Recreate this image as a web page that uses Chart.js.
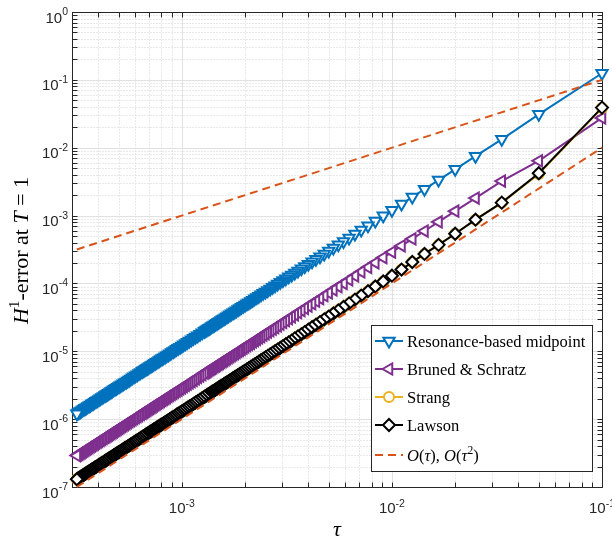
<!DOCTYPE html>
<html>
<head>
<meta charset="utf-8">
<script src="https://cdn.jsdelivr.net/npm/chart.js@4.4.1/dist/chart.umd.min.js"></script>
<style>
  html, body { margin: 0; padding: 0; background: #fff; }
  #wrap { width: 612px; height: 540px; }
</style>
</head>
<body>
<div id="wrap"><canvas id="errChart"></canvas></div>
<script>
// ---- data ----
const tau = [
  0.1, 0.05, 0.03333, 0.025, 0.02, 0.01667, 0.01429, 0.0125, 0.01111, 0.01,
  0.009091, 0.008333, 0.007692, 0.007143, 0.006667, 0.00625, 0.005882, 0.005556, 0.005263, 0.005,
  0.004762, 0.004545, 0.004348, 0.004167, 0.004, 0.003846, 0.003704, 0.003571, 0.003448, 0.003333,
  0.003226, 0.003125, 0.00303, 0.002941, 0.002857, 0.002778, 0.002703, 0.002632, 0.002564, 0.0025,
  0.002439, 0.002381, 0.002326, 0.002273, 0.002222, 0.002174, 0.002128, 0.002083, 0.002041, 0.002,
  0.001961, 0.001923, 0.001887, 0.001852, 0.001818, 0.001786, 0.001754, 0.001724, 0.001695, 0.001667,
  0.001639, 0.001613, 0.001587, 0.001563, 0.001538, 0.001515, 0.001493, 0.001471, 0.001449, 0.001429,
  0.001408, 0.001389, 0.00137, 0.001351, 0.001333, 0.001316, 0.001299, 0.001282, 0.00125, 0.00122,
  0.00119, 0.001163, 0.001136, 0.001111, 0.001087, 0.001064, 0.001042, 0.00102, 0.001, 9.804e-4,
  9.615e-4, 9.434e-4, 9.259e-4, 9.091e-4, 8.929e-4, 8.772e-4, 8.621e-4, 8.475e-4, 8.333e-4, 8.197e-4,
  8.065e-4, 7.937e-4, 7.813e-4, 7.692e-4, 7.576e-4, 7.463e-4, 7.353e-4, 7.246e-4, 7.143e-4, 7.042e-4,
  6.944e-4, 6.849e-4, 6.757e-4, 6.667e-4, 6.579e-4, 6.494e-4, 6.369e-4, 6.250e-4, 6.135e-4, 6.024e-4,
  5.917e-4, 5.814e-4, 5.714e-4, 5.618e-4, 5.525e-4, 5.435e-4, 5.348e-4, 5.263e-4, 5.181e-4, 5.102e-4,
  5.025e-4, 4.950e-4, 4.878e-4, 4.808e-4, 4.739e-4, 4.673e-4, 4.608e-4, 4.545e-4, 4.484e-4, 4.425e-4,
  4.367e-4, 4.310e-4, 4.237e-4, 4.167e-4, 4.098e-4, 4.032e-4, 3.968e-4, 3.906e-4, 3.846e-4, 3.788e-4,
  3.731e-4, 3.676e-4, 3.623e-4, 3.571e-4, 3.521e-4, 3.472e-4, 3.425e-4, 3.378e-4, 3.333e-4, 3.289e-4,
  3.247e-4, 3.205e-4, 3.165e-4
];

const resonanceErr = [
  0.125, 0.031, 0.0133, 0.0075, 0.0048, 0.00333, 0.00245, 0.00188, 0.00148, 0.0012,
  9.92e-4, 8.33e-4, 7.10e-4, 6.12e-4, 5.33e-4, 4.69e-4, 4.15e-4, 3.70e-4, 3.32e-4, 3.00e-4,
  2.72e-4, 2.48e-4, 2.27e-4, 2.08e-4, 1.92e-4, 1.78e-4, 1.65e-4, 1.53e-4, 1.43e-4, 1.33e-4,
  1.25e-4, 1.17e-4, 1.10e-4, 1.04e-4, 9.80e-5, 9.26e-5, 8.77e-5, 8.31e-5, 7.89e-5, 7.50e-5,
  7.14e-5, 6.80e-5, 6.49e-5, 6.20e-5, 5.93e-5, 5.67e-5, 5.43e-5, 5.21e-5, 5.00e-5, 4.80e-5,
  4.61e-5, 4.44e-5, 4.27e-5, 4.12e-5, 3.97e-5, 3.83e-5, 3.69e-5, 3.57e-5, 3.45e-5, 3.33e-5,
  3.22e-5, 3.12e-5, 3.02e-5, 2.93e-5, 2.84e-5, 2.75e-5, 2.67e-5, 2.60e-5, 2.52e-5, 2.45e-5,
  2.38e-5, 2.31e-5, 2.25e-5, 2.19e-5, 2.13e-5, 2.08e-5, 2.02e-5, 1.97e-5, 1.88e-5, 1.78e-5,
  1.70e-5, 1.62e-5, 1.55e-5, 1.48e-5, 1.42e-5, 1.36e-5, 1.30e-5, 1.25e-5, 1.20e-5, 1.15e-5,
  1.11e-5, 1.07e-5, 1.03e-5, 9.92e-6, 9.57e-6, 9.23e-6, 8.92e-6, 8.62e-6, 8.33e-6, 8.06e-6,
  7.80e-6, 7.56e-6, 7.32e-6, 7.10e-6, 6.89e-6, 6.68e-6, 6.49e-6, 6.30e-6, 6.12e-6, 5.95e-6,
  5.79e-6, 5.63e-6, 5.48e-6, 5.33e-6, 5.19e-6, 5.06e-6, 4.87e-6, 4.69e-6, 4.52e-6, 4.35e-6,
  4.20e-6, 4.06e-6, 3.92e-6, 3.79e-6, 3.66e-6, 3.54e-6, 3.43e-6, 3.32e-6, 3.22e-6, 3.12e-6,
  3.03e-6, 2.94e-6, 2.86e-6, 2.77e-6, 2.70e-6, 2.62e-6, 2.55e-6, 2.48e-6, 2.41e-6, 2.35e-6,
  2.29e-6, 2.23e-6, 2.15e-6, 2.08e-6, 2.02e-6, 1.95e-6, 1.89e-6, 1.83e-6, 1.78e-6, 1.72e-6,
  1.67e-6, 1.62e-6, 1.58e-6, 1.53e-6, 1.49e-6, 1.45e-6, 1.41e-6, 1.37e-6, 1.33e-6, 1.30e-6,
  1.26e-6, 1.23e-6, 1.20e-6
];

const brunedErr = [
  0.0275, 0.0064, 0.00322, 0.00181, 0.00116, 8.06e-4, 5.92e-4, 4.53e-4, 3.58e-4, 2.90e-4,
  2.40e-4, 2.01e-4, 1.72e-4, 1.48e-4, 1.29e-4, 1.13e-4, 1.00e-4, 8.95e-5, 8.03e-5, 7.25e-5,
  6.58e-5, 5.99e-5, 5.48e-5, 5.03e-5, 4.64e-5, 4.29e-5, 3.98e-5, 3.70e-5, 3.45e-5, 3.22e-5,
  3.02e-5, 2.83e-5, 2.66e-5, 2.51e-5, 2.37e-5, 2.24e-5, 2.12e-5, 2.01e-5, 1.91e-5, 1.81e-5,
  1.73e-5, 1.64e-5, 1.57e-5, 1.50e-5, 1.43e-5, 1.37e-5, 1.31e-5, 1.26e-5, 1.21e-5, 1.16e-5,
  1.11e-5, 1.07e-5, 1.03e-5, 9.95e-6, 9.59e-6, 9.25e-6, 8.93e-6, 8.62e-6, 8.33e-6, 8.06e-6,
  7.79e-6, 7.54e-6, 7.31e-6, 7.08e-6, 6.86e-6, 6.66e-6, 6.46e-6, 6.27e-6, 6.09e-6, 5.92e-6,
  5.75e-6, 5.59e-6, 5.44e-6, 5.30e-6, 5.16e-6, 5.02e-6, 4.89e-6, 4.77e-6, 4.53e-6, 4.31e-6,
  4.11e-6, 3.92e-6, 3.74e-6, 3.58e-6, 3.43e-6, 3.28e-6, 3.15e-6, 3.02e-6, 2.90e-6, 2.79e-6,
  2.68e-6, 2.58e-6, 2.49e-6, 2.40e-6, 2.31e-6, 2.23e-6, 2.16e-6, 2.08e-6, 2.01e-6, 1.95e-6,
  1.89e-6, 1.83e-6, 1.77e-6, 1.72e-6, 1.66e-6, 1.62e-6, 1.57e-6, 1.52e-6, 1.48e-6, 1.44e-6,
  1.40e-6, 1.36e-6, 1.32e-6, 1.29e-6, 1.26e-6, 1.22e-6, 1.18e-6, 1.13e-6, 1.09e-6, 1.05e-6,
  1.02e-6, 9.80e-7, 9.47e-7, 9.15e-7, 8.85e-7, 8.57e-7, 8.29e-7, 8.03e-7, 7.79e-7, 7.55e-7,
  7.32e-7, 7.11e-7, 6.90e-7, 6.70e-7, 6.51e-7, 6.33e-7, 6.16e-7, 5.99e-7, 5.83e-7, 5.68e-7,
  5.53e-7, 5.39e-7, 5.21e-7, 5.03e-7, 4.87e-7, 4.72e-7, 4.57e-7, 4.43e-7, 4.29e-7, 4.16e-7,
  4.04e-7, 3.92e-7, 3.81e-7, 3.70e-7, 3.60e-7, 3.50e-7, 3.40e-7, 3.31e-7, 3.22e-7, 3.14e-7,
  3.06e-7, 2.98e-7, 2.90e-7
];

const strangErr = [
  0.0385, 0.0041, 0.00154, 8.7e-4, 5.4e-4, 3.7e-4, 2.72e-4, 2.07e-4, 1.60e-4, 1.30e-4,
  1.07e-4, 9.03e-5, 7.69e-5, 6.63e-5, 5.78e-5, 5.08e-5, 4.50e-5, 4.01e-5, 3.60e-5, 3.25e-5,
  2.95e-5, 2.69e-5, 2.46e-5, 2.26e-5, 2.08e-5, 1.92e-5, 1.78e-5, 1.66e-5, 1.55e-5, 1.44e-5,
  1.35e-5, 1.27e-5, 1.19e-5, 1.12e-5, 1.06e-5, 1.00e-5, 9.50e-6, 9.00e-6, 8.55e-6, 8.13e-6,
  7.73e-6, 7.37e-6, 7.03e-6, 6.71e-6, 6.42e-6, 6.14e-6, 5.88e-6, 5.64e-6, 5.41e-6, 5.20e-6,
  5.00e-6, 4.81e-6, 4.63e-6, 4.46e-6, 4.30e-6, 4.15e-6, 4.00e-6, 3.86e-6, 3.73e-6, 3.61e-6,
  3.49e-6, 3.38e-6, 3.28e-6, 3.17e-6, 3.08e-6, 2.98e-6, 2.90e-6, 2.81e-6, 2.73e-6, 2.65e-6,
  2.58e-6, 2.51e-6, 2.44e-6, 2.37e-6, 2.31e-6, 2.25e-6, 2.19e-6, 2.14e-6, 2.03e-6, 1.93e-6,
  1.84e-6, 1.76e-6, 1.68e-6, 1.60e-6, 1.54e-6, 1.47e-6, 1.41e-6, 1.35e-6, 1.30e-6, 1.25e-6,
  1.20e-6, 1.16e-6, 1.11e-6, 1.07e-6, 1.04e-6, 1.00e-6, 9.66e-7, 9.34e-7, 9.03e-7, 8.73e-7,
  8.45e-7, 8.19e-7, 7.93e-7, 7.69e-7, 7.46e-7, 7.24e-7, 7.03e-7, 6.83e-7, 6.63e-7, 6.45e-7,
  6.27e-7, 6.10e-7, 5.94e-7, 5.78e-7, 5.63e-7, 5.48e-7, 5.27e-7, 5.08e-7, 4.89e-7, 4.72e-7,
  4.55e-7, 4.39e-7, 4.24e-7, 4.10e-7, 3.97e-7, 3.84e-7, 3.72e-7, 3.60e-7, 3.49e-7, 3.38e-7,
  3.28e-7, 3.19e-7, 3.09e-7, 3.00e-7, 2.92e-7, 2.84e-7, 2.76e-7, 2.69e-7, 2.61e-7, 2.55e-7,
  2.48e-7, 2.42e-7, 2.33e-7, 2.26e-7, 2.18e-7, 2.11e-7, 2.05e-7, 1.98e-7, 1.92e-7, 1.87e-7,
  1.81e-7, 1.76e-7, 1.71e-7, 1.66e-7, 1.61e-7, 1.57e-7, 1.52e-7, 1.48e-7, 1.44e-7, 1.41e-7,
  1.37e-7, 1.34e-7, 1.30e-7
];

const lawsonErr = [
  0.039, 0.0042, 0.00155, 8.7e-4, 5.4e-4, 3.7e-4, 2.72e-4, 2.07e-4, 1.60e-4, 1.30e-4,
  1.07e-4, 9.03e-5, 7.69e-5, 6.63e-5, 5.78e-5, 5.08e-5, 4.50e-5, 4.01e-5, 3.60e-5, 3.25e-5,
  2.95e-5, 2.69e-5, 2.46e-5, 2.26e-5, 2.08e-5, 1.92e-5, 1.78e-5, 1.66e-5, 1.55e-5, 1.44e-5,
  1.35e-5, 1.27e-5, 1.19e-5, 1.12e-5, 1.06e-5, 1.00e-5, 9.50e-6, 9.00e-6, 8.55e-6, 8.13e-6,
  7.73e-6, 7.37e-6, 7.03e-6, 6.71e-6, 6.42e-6, 6.14e-6, 5.88e-6, 5.64e-6, 5.41e-6, 5.20e-6,
  5.00e-6, 4.81e-6, 4.63e-6, 4.46e-6, 4.30e-6, 4.15e-6, 4.00e-6, 3.86e-6, 3.73e-6, 3.61e-6,
  3.49e-6, 3.38e-6, 3.28e-6, 3.17e-6, 3.08e-6, 2.98e-6, 2.90e-6, 2.81e-6, 2.73e-6, 2.65e-6,
  2.58e-6, 2.51e-6, 2.44e-6, 2.37e-6, 2.31e-6, 2.25e-6, 2.19e-6, 2.14e-6, 2.03e-6, 1.93e-6,
  1.84e-6, 1.76e-6, 1.68e-6, 1.60e-6, 1.54e-6, 1.47e-6, 1.41e-6, 1.35e-6, 1.30e-6, 1.25e-6,
  1.20e-6, 1.16e-6, 1.11e-6, 1.07e-6, 1.04e-6, 1.00e-6, 9.66e-7, 9.34e-7, 9.03e-7, 8.73e-7,
  8.45e-7, 8.19e-7, 7.93e-7, 7.69e-7, 7.46e-7, 7.24e-7, 7.03e-7, 6.83e-7, 6.63e-7, 6.45e-7,
  6.27e-7, 6.10e-7, 5.94e-7, 5.78e-7, 5.63e-7, 5.48e-7, 5.27e-7, 5.08e-7, 4.89e-7, 4.72e-7,
  4.55e-7, 4.39e-7, 4.24e-7, 4.10e-7, 3.97e-7, 3.84e-7, 3.72e-7, 3.60e-7, 3.49e-7, 3.38e-7,
  3.28e-7, 3.19e-7, 3.09e-7, 3.00e-7, 2.92e-7, 2.84e-7, 2.76e-7, 2.69e-7, 2.61e-7, 2.55e-7,
  2.48e-7, 2.42e-7, 2.33e-7, 2.26e-7, 2.18e-7, 2.11e-7, 2.05e-7, 1.98e-7, 1.92e-7, 1.87e-7,
  1.81e-7, 1.76e-7, 1.71e-7, 1.66e-7, 1.61e-7, 1.57e-7, 1.52e-7, 1.48e-7, 1.44e-7, 1.41e-7,
  1.37e-7, 1.34e-7, 1.30e-7
];

// reference slopes, drawn between the two ends of the tau range
const refTau = [3.162e-4, 0.1];
const refOrderOne = [3.162e-4, 0.1];
const refOrderTwo = [1.0e-7, 0.01];

const seriesNames = ["Resonance-based midpoint", "Bruned & Schratz", "Strang", "Lawson"];
const xTickLabels = [-3, -2, -1];               // exponents of 10
const yTickLabels = [0, -1, -2, -3, -4, -5, -6, -7];

const X_MIN = 3.162e-4, X_MAX = 0.1, Y_MIN = 1e-7, Y_MAX = 1;

// ---- colours ----
const BLUE = "#0072BD", PURPLE = "#7E2F8E", YELLOW = "#EDB120", ORANGE = "#D95319", AXIS = "#262626";
const SERIF = '"Liberation Serif", "Times New Roman", serif';
const SANS = '"Liberation Sans", Arial, sans-serif';

function pts(xs, ys) {
  return xs.map((x, i) => ({ x, y: ys[i] }));
}

// ticks at d * 10^e, d = 1..9 (major when d == 1)
function decadeTicks(scale) {
  const out = [];
  const lo = Math.floor(Math.log10(scale.min)), hi = Math.ceil(Math.log10(scale.max));
  for (let e = lo; e <= hi; e++) {
    for (let d = 1; d <= 9; d++) {
      const v = d * Math.pow(10, e);
      if (v >= scale.min * 0.999 && v <= scale.max * 1.001) out.push({ value: v, major: d === 1 });
    }
  }
  scale.ticks = out;
}

function richWidth(ctx, segs, size) {
  let w = 0;
  segs.forEach((s) => {
    ctx.font = (s.it ? "italic " : "") + (s.sup ? size * 0.7 : size) + "px " + SERIF;
    w += ctx.measureText(s.t).width;
  });
  return w;
}

function drawRich(ctx, segs, x, y, size) {
  let cx = x;
  segs.forEach((s) => {
    ctx.font = (s.it ? "italic " : "") + (s.sup ? size * 0.7 : size) + "px " + SERIF;
    ctx.fillText(s.t, cx, s.sup ? y - size * 0.4 : y);
    cx += ctx.measureText(s.t).width;
  });
}

function legendMarker(ctx, shape, cx, cy, r) {
  ctx.beginPath();
  if (shape === "circle") {
    ctx.arc(cx, cy, r, 0, Math.PI * 2);
  } else {
    const rot = { triDown: Math.PI, triLeft: Math.PI * 1.5, diamond: 0 }[shape];
    const n = shape === "diamond" ? 4 : 3;
    for (let i = 0; i < n; i++) {
      const a = rot + (i * Math.PI * 2) / n;
      const px = cx + Math.sin(a) * r, py = cy - Math.cos(a) * r;
      if (i === 0) ctx.moveTo(px, py); else ctx.lineTo(px, py);
    }
    ctx.closePath();
  }
  ctx.fillStyle = "#fff";
  ctx.fill();
  ctx.stroke();
}

// ==============================
// GRID, BOX, TICKS, LABELS, LEGEND
// ==============================
const matlabAxes = {
  id: "matlabAxes",
  beforeDatasetsDraw(chart) {
    const { ctx, chartArea: a, scales: { x, y } } = chart;
    const line = (x1, y1, x2, y2) => { ctx.beginPath(); ctx.moveTo(x1, y1); ctx.lineTo(x2, y2); ctx.stroke(); };
    const L = Math.round(a.left) + 0.5, R = Math.round(a.right) + 0.5;
    const T = Math.round(a.top) + 0.5, B = Math.round(a.bottom) + 0.5;
    ctx.save();
    ctx.lineWidth = 1;

    // minor grid first, then major
    [false, true].forEach((major) => {
      ctx.strokeStyle = major ? "#e1e1e1" : "#d2d2d2";
      ctx.setLineDash(major ? [] : [1, 2]);
      x.ticks.forEach((t) => {
        if (t.major !== major) return;
        const px = Math.round(x.getPixelForValue(t.value)) + 0.5;
        if (px <= L + 1 || px >= R - 1) return;
        line(px, T, px, B);
      });
      y.ticks.forEach((t) => {
        if (t.major !== major) return;
        const py = Math.round(y.getPixelForValue(t.value)) + 0.5;
        if (py <= T + 1 || py >= B - 1) return;
        line(L, py, R, py);
      });
    });
    ctx.setLineDash([]);

    // box and inward ticks on all four sides
    ctx.strokeStyle = AXIS;
    ctx.strokeRect(L, T, R - L, B - T);
    const tl = 5;
    x.ticks.forEach((t) => {
      const px = Math.round(x.getPixelForValue(t.value)) + 0.5;
      if (px <= L + 1 || px >= R - 1) return;
      line(px, B, px, B - tl);
      line(px, T, px, T + tl);
    });
    y.ticks.forEach((t) => {
      const py = Math.round(y.getPixelForValue(t.value)) + 0.5;
      if (py <= T + 1 || py >= B - 1) return;
      line(L, py, L + tl, py);
      line(R, py, R - tl, py);
    });
    ctx.restore();
  },

  afterDraw(chart) {
    const { ctx, chartArea: a, scales: { x, y } } = chart;
    ctx.save();
    ctx.fillStyle = AXIS;
    ctx.textAlign = "left";
    ctx.textBaseline = "alphabetic";

    // tick labels 10^e
    const baseFont = "15px " + SANS, expFont = "10.5px " + SANS;
    yTickLabels.forEach((e) => {
      const py = y.getPixelForValue(Math.pow(10, e));
      ctx.font = expFont;
      const we = ctx.measureText(String(e)).width;
      ctx.font = baseFont;
      const wb = ctx.measureText("10").width;
      const right = a.left - 4;
      ctx.fillText("10", right - we - wb, py + 10.5);
      ctx.font = expFont;
      ctx.fillText(String(e), right - we, py + 3);
    });
    xTickLabels.forEach((e) => {
      const px = x.getPixelForValue(Math.pow(10, e));
      ctx.font = expFont;
      const we = ctx.measureText(String(e)).width;
      ctx.font = baseFont;
      const wb = ctx.measureText("10").width;
      const left = px - (we + wb) / 2;
      ctx.fillText("10", left, a.bottom + 26);
      ctx.font = expFont;
      ctx.fillText(String(e), left + wb, a.bottom + 20);
    });

    // axis titles
    ctx.fillStyle = "#000";
    const tauSeg = [{ t: "\u03c4", it: true }];
    const tw = richWidth(ctx, tauSeg, 22);
    drawRich(ctx, tauSeg, (a.left + a.right) / 2 - tw / 2, 536, 22);

    const ySeg = [
      { t: "H", it: true }, { t: "1", sup: true }, { t: "-error at " },
      { t: "T", it: true }, { t: " = 1" }
    ];
    ctx.save();
    ctx.translate(28, (a.top + a.bottom) / 2 + 1);
    ctx.rotate(-Math.PI / 2);
    const yw = richWidth(ctx, ySeg, 22);
    drawRich(ctx, ySeg, -yw / 2, 0, 22);
    ctx.restore();

    // legend
    const box = { l: 371.5, t: 325.5, r: 592.5, b: 471.5 };
    ctx.fillStyle = "#fff";
    ctx.fillRect(box.l, box.t, box.r - box.l, box.b - box.t);
    ctx.strokeStyle = AXIS;
    ctx.lineWidth = 1;
    ctx.strokeRect(box.l, box.t, box.r - box.l, box.b - box.t);

    const entries = [
      { name: seriesNames[0], color: BLUE, shape: "triDown", r: 6.5, cy: 341 },
      { name: seriesNames[1], color: PURPLE, shape: "triLeft", r: 6.5, cy: 369 },
      { name: seriesNames[2], color: YELLOW, shape: "circle", r: 5, cy: 397 },
      { name: seriesNames[3], color: "#000", shape: "diamond", r: 6, cy: 425 },
      { color: ORANGE, dashed: true, cy: 455 }
    ];
    entries.forEach((en) => {
      ctx.strokeStyle = en.color;
      ctx.lineWidth = 2;
      ctx.setLineDash(en.dashed ? [8, 5] : []);
      ctx.beginPath();
      ctx.moveTo(375, en.cy);
      ctx.lineTo(403, en.cy);
      ctx.stroke();
      ctx.setLineDash([]);
      if (en.shape) legendMarker(ctx, en.shape, 389, en.cy, en.r);
      ctx.fillStyle = "#000";
      if (en.name) {
        drawRich(ctx, [{ t: en.name }], 407, en.cy + 5.5, 16.5);
      } else {
        drawRich(ctx, [
          { t: "O", it: true }, { t: "(" }, { t: "\u03c4", it: true }, { t: "), " },
          { t: "O", it: true }, { t: "(" }, { t: "\u03c4", it: true }, { t: "2", sup: true }, { t: ")" }
        ], 407, en.cy + 5.5, 16.5);
      }
    });
    ctx.restore();
  }
};

const markerBase = { borderWidth: 2, pointBorderWidth: 2, pointBackgroundColor: "#fff", clip: false };

new Chart(document.getElementById("errChart"), {
  type: "scatter",
  data: {
    datasets: [
      {
        ...markerBase, label: seriesNames[0], data: pts(tau, resonanceErr), showLine: true,
        borderColor: BLUE, pointBorderColor: BLUE,
        pointStyle: "triangle", rotation: 180, pointRadius: 6.5, order: 6
      },
      {
        ...markerBase, label: seriesNames[1], data: pts(tau, brunedErr), showLine: true,
        borderColor: PURPLE, pointBorderColor: PURPLE,
        pointStyle: "triangle", rotation: 270, pointRadius: 6.5, order: 5
      },
      {
        ...markerBase, label: seriesNames[2], data: pts(tau, strangErr), showLine: true,
        borderColor: YELLOW, pointBorderColor: YELLOW,
        pointStyle: "circle", pointRadius: 5, order: 4
      },
      {
        ...markerBase, label: seriesNames[3], data: pts(tau, lawsonErr), showLine: true,
        borderColor: "#000", pointBorderColor: "#000",
        pointStyle: "rectRot", pointRadius: 6, order: 3
      },
      {
        label: "O(tau)", data: pts(refTau, refOrderOne), showLine: true,
        borderColor: ORANGE, borderWidth: 2, borderDash: [8, 5], pointRadius: 0, order: 2, clip: false
      },
      {
        label: "O(tau^2)", data: pts(refTau, refOrderTwo), showLine: true,
        borderColor: ORANGE, borderWidth: 2, borderDash: [8, 5], pointRadius: 0, order: 1, clip: false
      }
    ]
  },
  options: {
    responsive: true,
    maintainAspectRatio: false,
    animation: false,
    devicePixelRatio: 1,
    events: [],
    layout: { padding: { left: 72, right: 10, top: 12, bottom: 53 } },
    scales: {
      x: {
        type: "logarithmic", min: X_MIN, max: X_MAX,
        afterBuildTicks: decadeTicks,
        afterFit: (s) => { s.height = 0; },
        ticks: { display: false },
        grid: { display: false },
        border: { display: false }
      },
      y: {
        type: "logarithmic", min: Y_MIN, max: Y_MAX,
        afterBuildTicks: decadeTicks,
        afterFit: (s) => { s.width = 0; },
        ticks: { display: false },
        grid: { display: false },
        border: { display: false }
      }
    },
    plugins: {
      legend: { display: false },
      tooltip: { enabled: false }
    }
  },
  plugins: [matlabAxes]
});
</script>
</body>
</html>
